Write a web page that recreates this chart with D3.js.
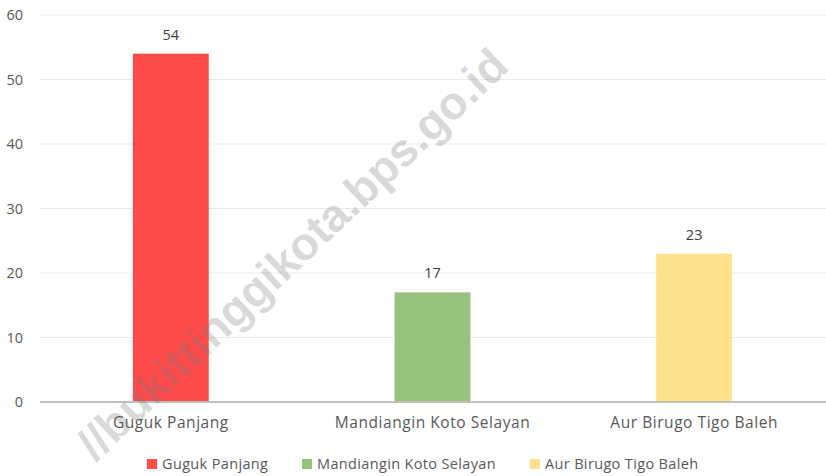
<!DOCTYPE html>
<html><head><meta charset="utf-8">
<script src="https://cdn.jsdelivr.net/npm/d3@7"></script>
<style>body{margin:0;background:#fff}svg{display:block}</style>
</head><body>
<script>
const categories = ["Guguk Panjang", "Mandiangin Koto Selayan", "Aur Birugo Tigo Baleh"];
const values = [54, 17, 23];
const colors = ["#FF4A4A", "#97C27C", "#FFE08C"];
const yTicks = [0, 10, 20, 30, 40, 50, 60];
const watermark = "//bukittinggikota.bps.go.id";

const W = 826, H = 476;
const svg = d3.select("body").append("svg").attr("width", W).attr("height", H);
const font = "'Open Sans', 'Noto Sans', sans-serif";
const x = d3.scaleBand().domain(categories).range([40, 825]).paddingInner(0.71).paddingOuter(0.355);
const y = d3.scaleLinear().domain([0, 60]).range([402, 15]);

// gridlines
svg.append("g").selectAll("line").data(yTicks.slice(1)).join("line")
  .attr("x1", 40).attr("x2", W).attr("y1", d => y(d)).attr("y2", d => y(d))
  .attr("stroke", "#ebebeb").attr("stroke-width", 1);

// y tick labels
const yAxis = svg.append("g").attr("transform", "translate(40,0)")
  .call(d3.axisLeft(y).tickValues(yTicks).tickSize(0).tickPadding(17));
yAxis.select(".domain").remove();
yAxis.selectAll("text").attr("font-family", font).attr("font-size", 14.5).attr("fill", "#595959");

// bars
svg.append("g").selectAll("rect").data(values).join("rect")
  .attr("x", (d, i) => x(categories[i])).attr("width", x.bandwidth())
  .attr("y", d => y(d)).attr("height", d => y(0) - y(d))
  .attr("fill", (d, i) => colors[i]);

// value labels
svg.append("g").selectAll("text").data(values).join("text")
  .attr("x", (d, i) => x(categories[i]) + x.bandwidth() / 2).attr("y", d => y(d) - 14)
  .attr("text-anchor", "middle").attr("font-family", font).attr("font-size", 14.5).attr("fill", "#404040")
  .text(d => d);

// x axis
const xAxis = svg.append("g").attr("transform", `translate(0,${y(0)})`)
  .call(d3.axisBottom(x).tickSize(0).tickPadding(15));
xAxis.select(".domain").attr("stroke", "#bfbfbf").attr("stroke-width", 2).attr("d", `M40,0H${W}`);
xAxis.selectAll("text").attr("font-family", font).attr("font-size", 15.5)
  .attr("letter-spacing", 0.55).attr("fill", "#595959");

// legend
const legendX = [147, 302, 530];
const lg = svg.append("g").selectAll("g").data(categories).join("g")
  .attr("transform", (d, i) => `translate(${legendX[i]},464)`);
lg.append("rect").attr("x", 0).attr("y", -5).attr("width", 10).attr("height", 10).attr("fill", (d, i) => colors[i]);
lg.append("text").attr("x", 15).attr("y", 0).attr("dy", "0.35em")
  .attr("font-family", font).attr("font-size", 14.5).attr("letter-spacing", 0.35)
  .attr("fill", "#595959").text(d => d);

// watermark
svg.append("text").attr("transform", "translate(292,254) rotate(-43.5)")
  .attr("text-anchor", "middle").attr("dy", "0.35em")
  .attr("font-family", "'Liberation Sans', Arial, sans-serif").attr("font-weight", "bold").attr("font-size", 46)
  .attr("fill", "#7a7a7a").attr("fill-opacity", 0.28).text(watermark);
</script>
</body></html>
